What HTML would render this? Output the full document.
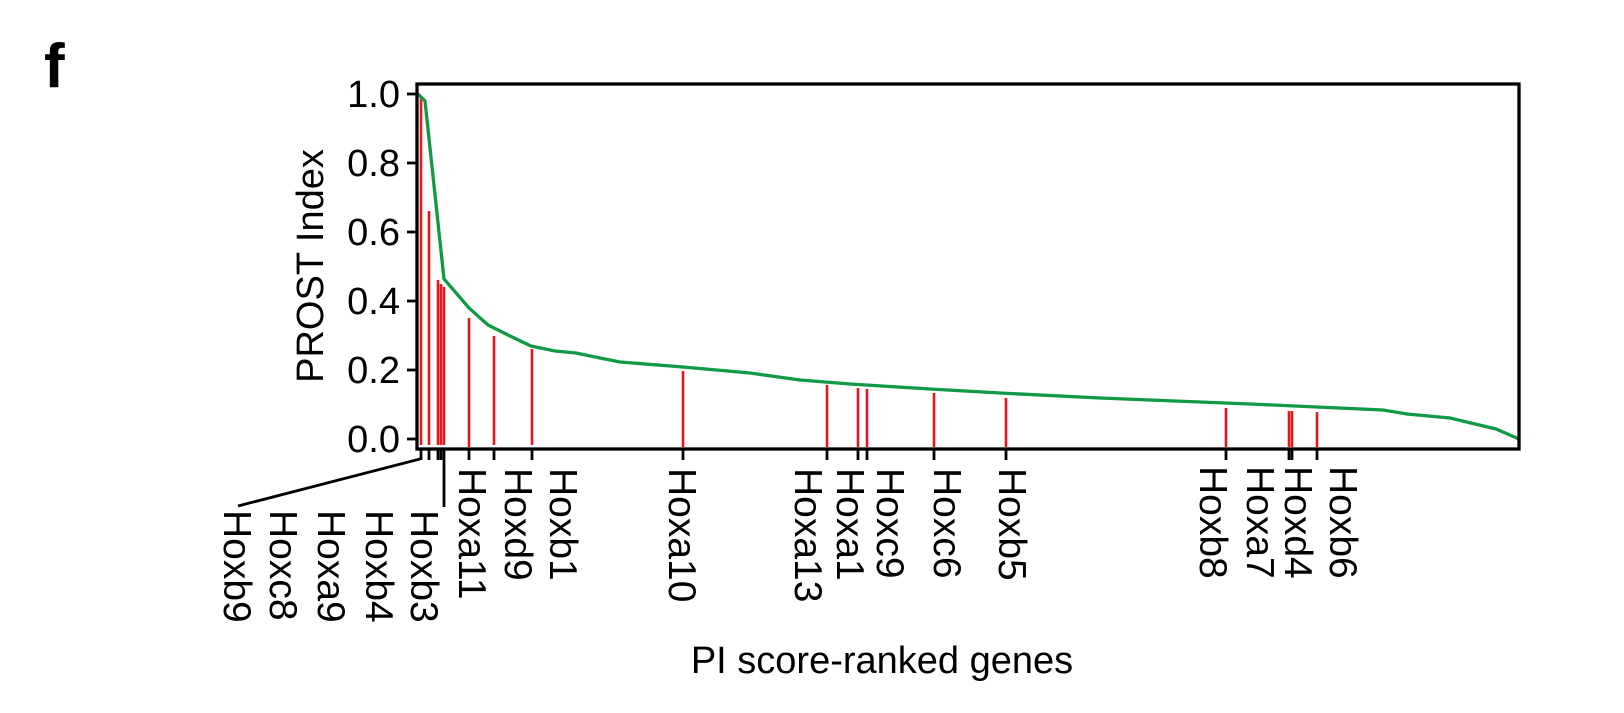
<!DOCTYPE html>
<html><head><meta charset="utf-8"><style>body{margin:0;background:#fff}svg{display:block}</style></head>
<body>
<svg width="1624" height="713" viewBox="0 0 1624 713" xmlns="http://www.w3.org/2000/svg" font-family="Liberation Sans, Arial, sans-serif">
<text x="44" y="87" font-size="62" font-weight="bold">f</text>
<!-- red lines -->
<g stroke="#e8171b" stroke-width="2.6">
<line x1="421" y1="97" x2="421" y2="445"/>
<line x1="429" y1="211" x2="429" y2="445"/>
<line x1="438" y1="280" x2="438" y2="445"/>
<line x1="441" y1="284" x2="441" y2="445"/>
<line x1="444" y1="287" x2="444" y2="445"/>
<line x1="469" y1="318" x2="469" y2="447"/>
<line x1="494" y1="336" x2="494" y2="445"/>
<line x1="532" y1="349" x2="532" y2="445"/>
<line x1="683" y1="371" x2="683" y2="447"/>
<line x1="827" y1="385" x2="827" y2="447"/>
<line x1="858" y1="388" x2="858" y2="447"/>
<line x1="867" y1="389" x2="867" y2="447"/>
<line x1="934" y1="393" x2="934" y2="447"/>
<line x1="1006" y1="398" x2="1006" y2="447"/>
<line x1="1226" y1="408" x2="1226" y2="447"/>
<line x1="1289" y1="411" x2="1289" y2="447"/>
<line x1="1292" y1="411" x2="1292" y2="447"/>
<line x1="1317" y1="412" x2="1317" y2="447"/>
</g>
<polyline fill="none" stroke="#0f9a43" stroke-width="3.3" points="418,94 425,101 444,279 469,308 488,325 508,335 531,346 555,351 576,353 600,358 620,362 683,367 750,373 800,380 850,384 930,389 1000,393 1100,398 1150,400 1250,404 1383,410 1407,414 1450,418 1496,429 1519,439"/>
<!-- frame -->
<rect x="417" y="84" width="1102" height="365" fill="none" stroke="#000" stroke-width="3.3"/>
<!-- y ticks -->
<g stroke="#000" stroke-width="2.8">
<line x1="407" y1="94" x2="417" y2="94"/>
<line x1="407" y1="163" x2="417" y2="163"/>
<line x1="407" y1="232" x2="417" y2="232"/>
<line x1="407" y1="301" x2="417" y2="301"/>
<line x1="407" y1="370" x2="417" y2="370"/>
<line x1="407" y1="439" x2="417" y2="439"/>
</g>
<g font-size="38" text-anchor="end">
<text x="400" y="107">1.0</text>
<text x="400" y="176">0.8</text>
<text x="400" y="245">0.6</text>
<text x="400" y="314">0.4</text>
<text x="400" y="383">0.2</text>
<text x="400" y="452">0.0</text>
</g>
<text transform="translate(323,266) rotate(-90)" font-size="38" text-anchor="middle">PROST Index</text>
<!-- x ticks -->
<g stroke="#000" stroke-width="2.8">
<line x1="421" y1="449" x2="421" y2="460"/>
<line x1="429" y1="449" x2="429" y2="460"/>
<line x1="438" y1="449" x2="438" y2="460"/>
<line x1="441" y1="449" x2="441" y2="460"/>
<line x1="444" y1="449" x2="444" y2="507"/>
<line x1="469" y1="449" x2="469" y2="460"/>
<line x1="494" y1="449" x2="494" y2="460"/>
<line x1="532" y1="449" x2="532" y2="460"/>
<line x1="683" y1="449" x2="683" y2="460"/>
<line x1="827" y1="449" x2="827" y2="460"/>
<line x1="858" y1="449" x2="858" y2="460"/>
<line x1="867" y1="449" x2="867" y2="460"/>
<line x1="934" y1="449" x2="934" y2="460"/>
<line x1="1006" y1="449" x2="1006" y2="460"/>
<line x1="1226" y1="449" x2="1226" y2="460"/>
<line x1="1289" y1="449" x2="1289" y2="460"/>
<line x1="1292" y1="449" x2="1292" y2="460"/>
<line x1="1317" y1="449" x2="1317" y2="460"/>
<line x1="420" y1="459" x2="238" y2="506"/>
</g>
<g font-size="39">
<text transform="translate(224,510) rotate(90)">Hoxb9</text>
<text transform="translate(270,510) rotate(90)">Hoxc8</text>
<text transform="translate(318,510) rotate(90)">Hoxa9</text>
<text transform="translate(366,510) rotate(90)">Hoxb4</text>
<text transform="translate(411,510) rotate(90)">Hoxb3</text>
<text transform="translate(459,468) rotate(90)">Hoxa11</text>
<text transform="translate(505,468) rotate(90)">Hoxd9</text>
<text transform="translate(550,468) rotate(90)">Hoxb1</text>
<text transform="translate(669,468) rotate(90)">Hoxa10</text>
<text transform="translate(795,468) rotate(90)">Hoxa13</text>
<text transform="translate(837,468) rotate(90)">Hoxa1</text>
<text transform="translate(877,468) rotate(90)">Hoxc9</text>
<text transform="translate(934,468) rotate(90)">Hoxc6</text>
<text transform="translate(999,468) rotate(90)">Hoxb5</text>
<text transform="translate(1200,466) rotate(90)">Hoxb8</text>
<text transform="translate(1247,466) rotate(90)">Hoxa7</text>
<text transform="translate(1285,466) rotate(90)">Hoxd4</text>
<text transform="translate(1330,466) rotate(90)">Hoxb6</text>
</g>
<text x="882" y="673" font-size="38" text-anchor="middle">PI score-ranked genes</text>
</svg>
</body></html>
